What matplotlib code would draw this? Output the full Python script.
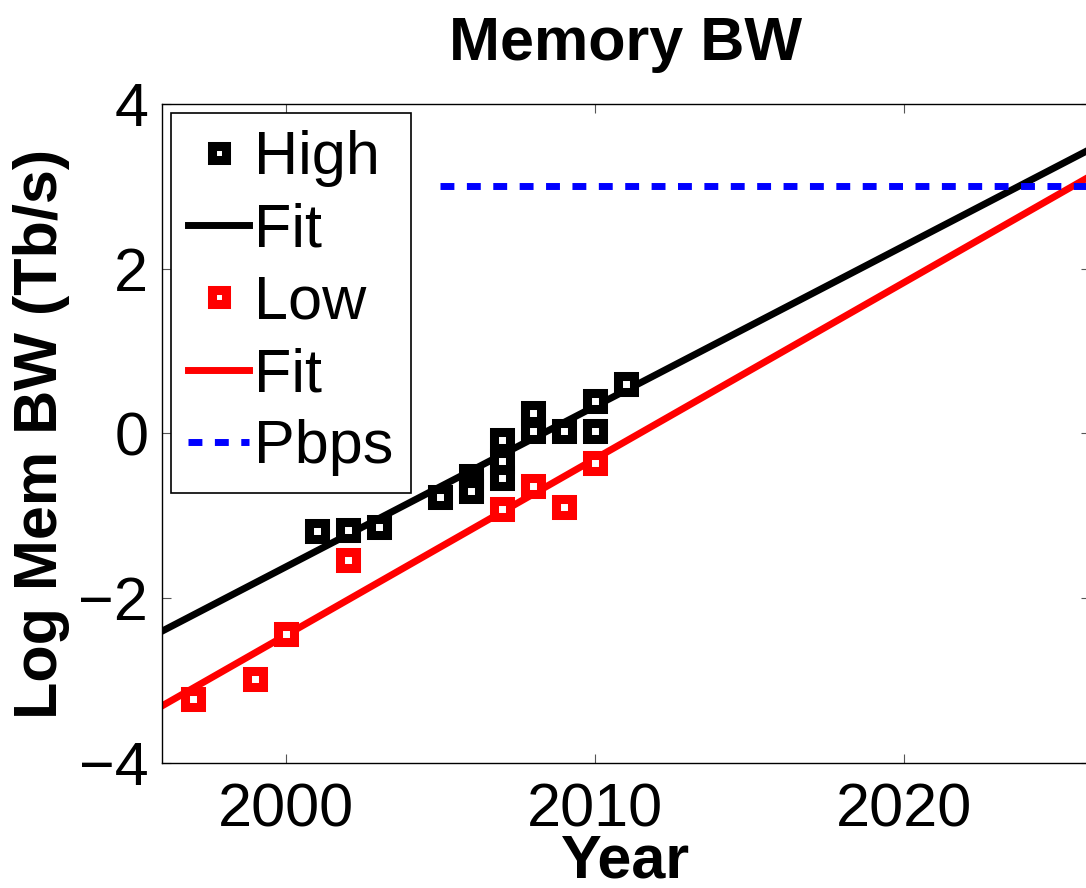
import matplotlib
matplotlib.use("Agg")
import matplotlib.pyplot as plt
import numpy as np

# Measured memory bandwidth (log10 Tb/s) by year
years_high = [2001, 2002, 2003, 2005, 2006, 2006, 2006, 2007, 2007, 2007, 2008, 2008, 2009, 2010, 2010, 2011]
bw_high = [-1.18, -1.17, -1.13, -0.77, -0.52, -0.62, -0.70, -0.08, -0.34, -0.54, 0.25, 0.03, 0.03, 0.39, 0.03, 0.60]

years_low = [1997, 1999, 2000, 2002, 2007, 2008, 2009, 2010]
bw_low = [-3.22, -2.98, -2.44, -1.54, -0.92, -0.64, -0.89, -0.36]

# Linear fits: (slope per year, value at 2000)
fit_high = (0.195, -1.62)
fit_low = (0.2143, -2.45)
fit_years = [1996, 2026]

# Petabit-per-second reference level (log10 of 1000 Tb/s)
pbps_years = [2005, 2026]
pbps_level = 3.0

x_ticks = [2000, 2010, 2020]
y_ticks = [-4, -2, 0, 2, 4]

plt.rcParams['font.family'] = ['Liberation Sans', 'DejaVu Sans']

fig = plt.figure(figsize=(10.86, 8.88), dpi=100)
ax = fig.add_axes([0.1492, 0.1408, 0.8545, 0.7421])

ms, mew = 11.5, 6.5
lw = 5.0

fy = np.array(fit_years, dtype=float)
ax.plot(years_high, bw_high, ls='none', marker='s', ms=ms, mew=mew,
        mec='black', mfc='white', label='High', zorder=3)
ax.plot(fy, fit_high[0] * (fy - 2000) + fit_high[1], color='black', lw=lw,
        label='Fit', zorder=2)
ax.plot(years_low, bw_low, ls='none', marker='s', ms=ms, mew=mew,
        mec='#ff0000', mfc='white', label='Low', zorder=3)
ax.plot(fy, fit_low[0] * (fy - 2000) + fit_low[1], color='#ff0000', lw=lw,
        label='Fit', zorder=2)
ax.plot(pbps_years, [pbps_level, pbps_level], color='#0000ff', lw=lw,
        ls=(0, (2.0, 1.8)), label='Pbps', zorder=2)

ax.set_xlim(1996, 2026)
ax.set_ylim(-4, 4)
ax.set_xticks(x_ticks)
ax.set_yticks(y_ticks)
ax.tick_params(direction='in', length=6.5, width=0.8, color='#555555',
               top=True, right=True, labelsize=44, pad=10)
ax.tick_params(axis='x', pad=14)
for s in ax.spines.values():
    s.set_linewidth(1.0)

ax.set_title('Memory BW', fontsize=44, fontweight='bold', pad=32)
ax.set_xlabel('Year', fontsize=44, fontweight='bold', labelpad=-4)
ax.set_ylabel('Log Mem BW (Tb/s)', fontsize=44, fontweight='bold', labelpad=6)

leg = ax.legend(loc='upper left', fontsize=44, handlelength=1.0,
                handletextpad=0.08, labelspacing=0.25, borderpad=0.28,
                borderaxespad=0.15, fancybox=False, framealpha=1,
                edgecolor='black', markerscale=0.85)
leg.get_frame().set_linewidth(1.2)

fig.savefig('out.png', dpi=100)
